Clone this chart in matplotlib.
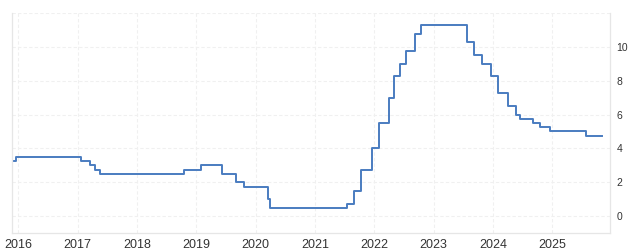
import pandas as pd
import matplotlib.pyplot as plt
import matplotlib.dates as mdates

# policy rate steps (date the new level starts, level in %)
dates = ["2015-11-21", "2015-12-17", "2017-01-18", "2017-03-16", "2017-04-19",
         "2017-05-18", "2018-10-18", "2019-01-31", "2019-06-07", "2019-09-05",
         "2019-10-24", "2020-03-16", "2020-03-31", "2021-07-15", "2021-09-01",
         "2021-10-14", "2021-12-15", "2022-01-27", "2022-03-30", "2022-05-05",
         "2022-06-09", "2022-07-14", "2022-09-08", "2022-10-13", "2023-07-29",
         "2023-09-06", "2023-10-26", "2023-12-20", "2024-02-01", "2024-04-03",
         "2024-05-24", "2024-06-19", "2024-09-05", "2024-10-18", "2024-12-18",
         "2025-07-30", "2025-11-05"]
rates = [3.25, 3.5, 3.25, 3.0, 2.75,
         2.5, 2.75, 3.0, 2.5, 2.0,
         1.75, 1.0, 0.5, 0.75, 1.5,
         2.75, 4.0, 5.5, 7.0, 8.25,
         9.0, 9.75, 10.75, 11.25, 10.25,
         9.5, 9.0, 8.25, 7.25, 6.5,
         6.0, 5.75, 5.5, 5.25, 5.0,
         4.75, 4.75]
year_ticks = [str(y) for y in range(2016, 2026)]
y_ticks = [0, 2, 4, 6, 8, 10, 12]

plt.rcParams['font.family'] = ['Liberation Sans', 'DejaVu Sans']

fig = plt.figure(figsize=(6.32, 2.5), dpi=100)
ax = fig.add_axes([0.0185, 0.067, 0.946, 0.882])

x = pd.to_datetime(dates)
ax.step(x, rates, where='post', color='#4a7cc0', lw=1.4)

ax.set_xlim(pd.Timestamp("2015-11-21"), pd.Timestamp("2025-12-20"))
ax.set_ylim(-1, 12)

ax.set_xticks(pd.to_datetime([y + "-01-01" for y in year_ticks]))
ax.xaxis.set_major_formatter(mdates.DateFormatter('%Y'))
ax.set_yticks(y_ticks)
ax.set_yticklabels([str(v) for v in y_ticks[:-1]] + [''])
ax.yaxis.tick_right()

ax.tick_params(axis='x', length=0, pad=4, labelsize=9, labelcolor='#333333')
ax.tick_params(axis='y', length=0, pad=5, labelsize=7.5, labelcolor='#333333')

ax.grid(True, color='#f0f0f0', linestyle=(0, (3, 2)), lw=0.8)
ax.set_axisbelow(True)

for side in ['left', 'bottom', 'right']:
    ax.spines[side].set_color('#e6e6e6')
    ax.spines[side].set_linewidth(0.9)
ax.spines['top'].set_visible(False)

fig.savefig('out.png', dpi=100)
